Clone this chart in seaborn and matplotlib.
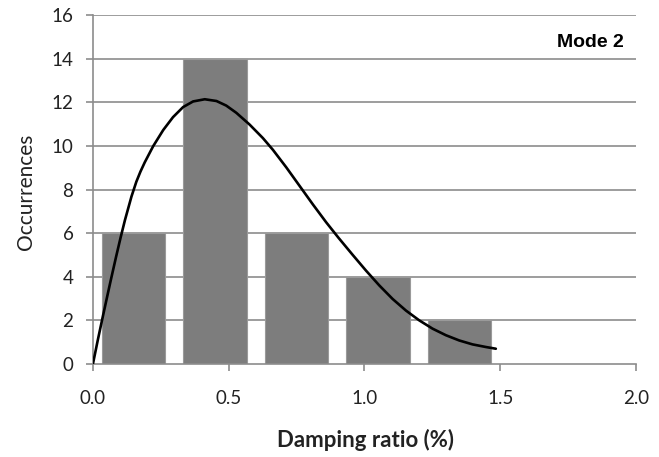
import matplotlib
matplotlib.use("Agg")
import matplotlib.pyplot as plt
import seaborn as sns
import pandas as pd

# Histogram of damping ratios (bin centres in %, counts)
bin_centres = [0.15, 0.45, 0.75, 1.05, 1.35]
counts = [6, 14, 6, 4, 2]

# Fitted distribution curve, sampled along its length
curve_x = [0.0, 0.018, 0.036, 0.050, 0.065, 0.085, 0.102, 0.118, 0.142,
           0.160, 0.175, 0.191, 0.222, 0.259, 0.295, 0.332, 0.369, 0.412,
           0.455, 0.491, 0.528, 0.577, 0.626, 0.663, 0.712, 0.761, 0.810,
           0.859, 0.905, 0.957, 1.006, 1.055, 1.104, 1.153, 1.202, 1.251,
           1.300, 1.349, 1.398, 1.447, 1.484]
curve_y = [0.0, 1.1, 2.15, 2.95, 3.8, 4.9, 5.8, 6.6, 7.68,
           8.36, 8.82, 9.25, 9.99, 10.73, 11.32, 11.78, 12.04, 12.14,
           12.06, 11.85, 11.52, 10.98, 10.36, 9.82, 9.02, 8.17, 7.32,
           6.5, 5.78, 5.0, 4.28, 3.6, 2.98, 2.45, 2.0, 1.62,
           1.32, 1.08, 0.9, 0.78, 0.7]

xticks = [0.0, 0.5, 1.0, 1.5, 2.0]
yticks = [0, 2, 4, 6, 8, 10, 12, 14, 16]

sns.set_theme(style="white")
plt.rcParams["font.family"] = ["Lato", "DejaVu Sans"]

fig = plt.figure(figsize=(6.59, 4.57), dpi=100)
ax = fig.add_axes([0.141, 0.2035, 0.824, 0.7635])

grid_col = "#8c8c8c"
for y in yticks[1:]:
    ax.axhline(y, color=grid_col, lw=1.2, zorder=0)

bars = pd.DataFrame({"ratio": bin_centres, "count": counts})
sns.barplot(data=bars, x="ratio", y="count", native_scale=True, width=0.78,
            color="#7d7d7d", saturation=1, edgecolor="#9a9a9a", linewidth=0.8,
            ax=ax, zorder=2)

curve = pd.DataFrame({"ratio": curve_x, "fit": curve_y})
sns.lineplot(data=curve, x="ratio", y="fit", color="black", lw=1.9,
             ax=ax, zorder=3)

ax.set_xlim(0, 2.0)
ax.set_ylim(0, 16)
ax.set_xticks(xticks)
ax.set_xticklabels([f"{v:.1f}" for v in xticks])
ax.set_yticks(yticks)
ax.set_yticklabels([str(v) for v in yticks])

for side in ["top", "right"]:
    ax.spines[side].set_visible(False)
for side in ["left", "bottom"]:
    ax.spines[side].set_color(grid_col)
    ax.spines[side].set_linewidth(1.2)

ax.tick_params(axis="x", direction="out", length=5, width=1.2, color=grid_col,
               pad=14, labelsize=13.5, labelcolor="#222222", bottom=True)
ax.tick_params(axis="y", direction="out", length=5, width=1.2, color=grid_col,
               pad=9, labelsize=13.5, labelcolor="#222222", left=True)

ax.set_xlabel("")
ax.set_ylabel("")
fig.text(0.554, 0.037, "Damping ratio (%)", ha="center", va="center",
         fontsize=16, fontweight="bold", color="#222222")
fig.text(0.039, 0.581, "Occurrences", ha="center", va="center", rotation=90,
         fontsize=15, color="#222222")

ax.text(0.978, 0.908, "Mode 2", transform=ax.transAxes, ha="right",
        va="baseline", fontsize=14, fontweight="bold",
        family=["Liberation Sans"], color="black")

fig.savefig("out.png", dpi=100, facecolor="white")
